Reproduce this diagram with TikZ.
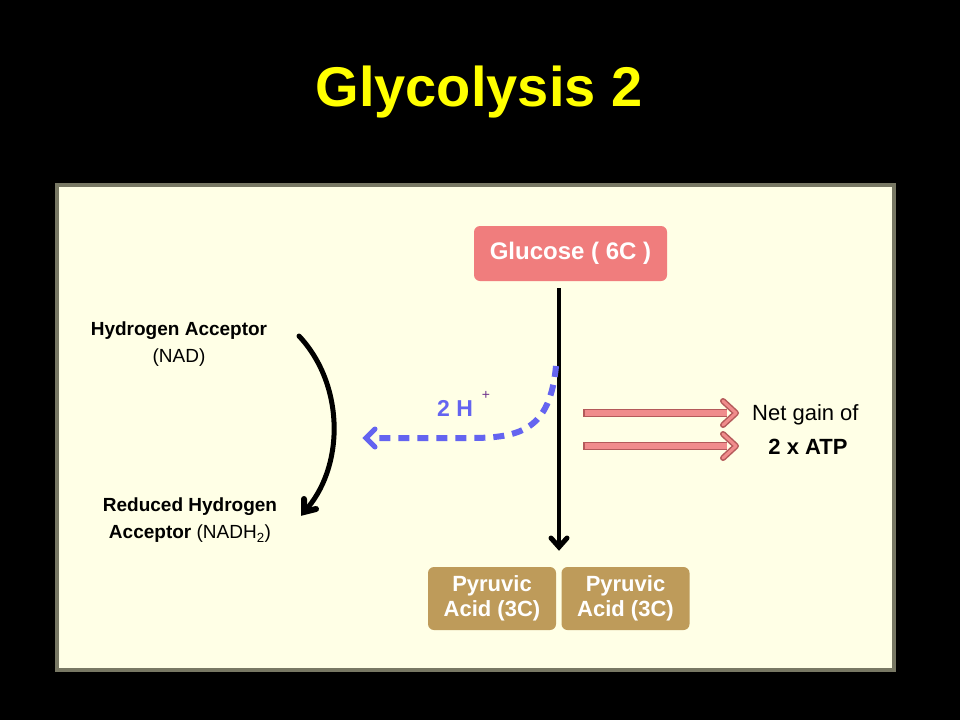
\documentclass[tikz,border=0pt]{standalone}
\usepackage{fontspec}
\setmainfont{Liberation Sans}
\usetikzlibrary{arrows.meta,calc}
\definecolor{paneltan}{RGB}{255,255,230}
\definecolor{panelframe}{RGB}{120,120,100}
\definecolor{salmon}{RGB}{240,125,125}
\definecolor{tanbox}{RGB}{190,155,90}
\definecolor{hblue}{RGB}{100,100,240}
\definecolor{pinkbar}{RGB}{240,140,140}
\definecolor{pinkedge}{RGB}{180,90,90}
\definecolor{plumplus}{RGB}{110,50,140}
\definecolor{titleyellow}{RGB}{255,255,0}
\tikzset{
  lbl/.style={text=black, align=center, inner sep=0pt},
  pybox/.style={fill=tanbox, rounded corners=6pt, minimum width=128pt, minimum height=63pt, text=white, align=center, inner sep=0pt, font=\bfseries\fontsize{22}{25}\selectfont},
  headline/.style={line cap=round, line join=miter},
}
\begin{document}
\begin{tikzpicture}[x=1pt,y=-1pt]
\fill[black] (0,0) rectangle (960,720);
\useasboundingbox (0,0) rectangle (960,720);
% title
\node[text=titleyellow, font=\bfseries\fontsize{56}{60}\selectfont, inner sep=0pt] (title) at (479,92) {Glycolysis 2};
% panel
\fill[panelframe] (55,183) rectangle (896,672);
\fill[paneltan] (59,187) rectangle (892,668);
% glucose
\node[fill=salmon, rounded corners=6pt, minimum width=193pt, minimum height=55pt, text=white, font=\bfseries\fontsize{24}{24}\selectfont, inner sep=0pt] (glu) at (570.5,253.5) {Glucose ( 6C )};
% pyruvic
\node[pybox] (py1) at (492,598.5) {Pyruvic\\Acid (3C)};
\node[pybox] (py2) at (625.5,598.5) {Pyruvic\\Acid (3C)};
% main arrow
\coordinate (mtop) at (559,288);
\coordinate (mbot) at (559,547);
\draw[line width=3.5pt] (mtop) -- (mbot);
\draw[line width=5pt, headline] ($(mbot)+(-8,-9)$) -- (mbot) -- ($(mbot)+(8,-9)$);
% blue dashed
\coordinate (hs) at (556,366);
\coordinate (he) at (366,438);
\draw[hblue, line width=6pt, dash pattern=on 11pt off 8pt] (hs) .. controls (550,430) and (520,438) .. (470,438) -- ($(he)+(10,0)$);
\draw[hblue, line width=5pt, headline] ($(he)+(9,-9)$) -- (he) -- ($(he)+(9,9)$);
\node[text=hblue, font=\bfseries\fontsize{23}{23}\selectfont, inner sep=0pt] (h2) at (455,408) {2 H};
\node[text=plumplus, font=\fontsize{14}{14}\selectfont, inner sep=0pt] (plus) at (486,395) {+};
% pink arrows
\coordinate (p1s) at (583,413);
\coordinate (p1e) at (736,413);
\coordinate (p2s) at (583,446);
\coordinate (p2e) at (736,446);
\foreach \s/\e in {p1s/p1e, p2s/p2e}{
  \draw[pinkedge, line width=8.5pt] (\s) -- ($(\e)+(-9,0)$);
  \draw[pinkbar, line width=5.5pt] ($(\s)+(1.5,0)$) -- ($(\e)+(-9,0)$);
  \draw[pinkedge, line width=6pt, line cap=round, line join=round] ($(\e)+(-13,-12)$) -- (\e) -- ($(\e)+(-13,12)$);
  \draw[pinkbar, line width=3pt, line cap=round, line join=round] ($(\e)+(-13,-12)$) -- (\e) -- ($(\e)+(-13,12)$);
}
\node[lbl, font=\fontsize{22}{22}\selectfont, anchor=west] (net) at (752,415) {Net gain of};
\node[lbl, font=\bfseries\fontsize{22}{22}\selectfont] (atp) at (808,447) {2 x ATP};
% left labels
\node[lbl, font=\bfseries\fontsize{19}{19}\selectfont] (ha) at (179,331) {Hydrogen Acceptor};
\node[lbl, font=\fontsize{19}{19}\selectfont] (nad) at (179,358) {(NAD)};
\node[lbl, font=\bfseries\fontsize{19}{19}\selectfont] (rh) at (190,507) {Reduced Hydrogen};
\node[lbl, font=\fontsize{19}{19}\selectfont] (nadh) at (190,534) {\textbf{Acceptor} (NADH\textsubscript{2})};
% curved arrow
\coordinate (cs) at (299,336);
\coordinate (ce) at (304,512);
\draw[line width=5pt, line cap=round] (cs) .. controls (345,385) and (345,468) .. (ce);
\draw[line width=6pt, headline] ($(ce)+(0,-13)$) -- (ce) -- ($(ce)+(12,-3)$);
\end{tikzpicture}
\end{document}
